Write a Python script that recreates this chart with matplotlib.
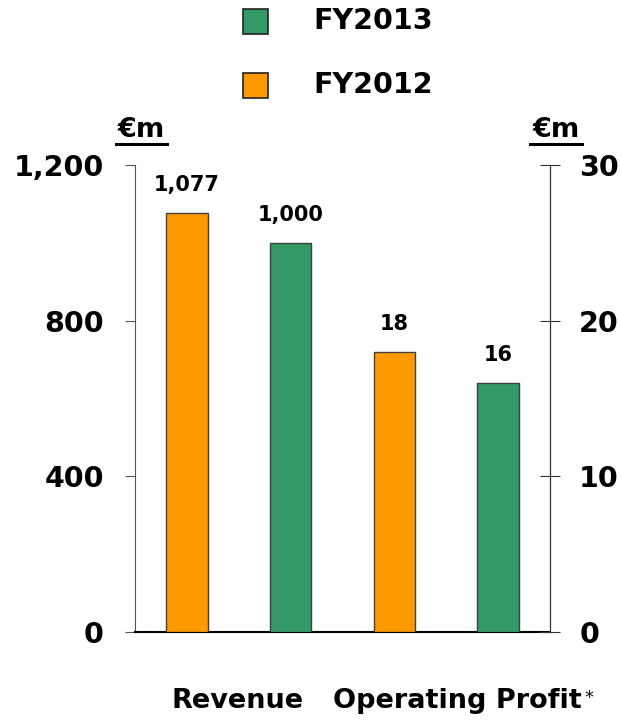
import matplotlib
matplotlib.use('Agg')
import matplotlib.pyplot as plt
from matplotlib.lines import Line2D
from matplotlib.patches import Rectangle

plt.rcParams['font.family'] = 'DejaVu Sans'
plt.rcParams['font.weight'] = 'bold'

# data
groups = ['Revenue', 'Operating Profit']
years = ['FY2013', 'FY2012']
revenue = {'FY2012': 1077, 'FY2013': 1000}
profit = {'FY2012': 18, 'FY2013': 16}
left_ticks = [0, 400, 800, 1200]
right_ticks = [0, 10, 20, 30]

GREEN = '#339966'
ORANGE = '#FF9900'
colors = {'FY2013': GREEN, 'FY2012': ORANGE}

fig = plt.figure(figsize=(6.21, 7.2), dpi=100)
ax = fig.add_axes([0.2174, 0.1222, 0.6683, 0.6486])
ax2 = ax.twinx()

order = ['FY2012', 'FY2013']
w = 0.4
for i, y in enumerate(order):
    v = revenue[y]
    ax.bar(i, v, width=w, color=colors[y], edgecolor='#404040', linewidth=1, zorder=3)
    ax.text(i, v + 46, f'{v:,}', ha='center', va='bottom', fontsize=15, fontweight='bold')
for i, y in enumerate(order):
    v = profit[y]
    ax2.bar(i + 2, v, width=w, color=colors[y], edgecolor='#404040', linewidth=1, zorder=3)
    ax2.text(i + 2, v + 1.15, f'{v:,}', ha='center', va='bottom', fontsize=15, fontweight='bold')

ax.set_xlim(-0.5, 3.5)
ax.set_ylim(0, 1200)
ax2.set_ylim(0, 30)
ax.set_yticks(left_ticks)
ax.set_yticklabels([f'{t:,}' for t in left_ticks], fontsize=20.5, fontweight='bold')
ax2.set_yticks(right_ticks)
ax2.set_yticklabels([str(t) for t in right_ticks], fontsize=20.5, fontweight='bold')
ax.set_xticks([])

for a in (ax, ax2):
    a.spines['top'].set_visible(False)
ax.spines['left'].set_color('#555555')
ax.spines['left'].set_linewidth(0.8)
ax2.spines['left'].set_visible(False)
ax2.spines['right'].set_color('#333333')
ax2.spines['right'].set_linewidth(0.8)
ax.spines['bottom'].set_linewidth(1.5)
ax.spines['bottom'].set_color('black')
ax2.spines['bottom'].set_visible(False)
ax.tick_params(axis='y', direction='out', length=7.5, width=0.8, color='#555555', pad=15)
ax2.tick_params(axis='y', direction='inout', length=14, width=0.8, color='#333333', pad=14)

# unit labels with underline
for x0, x1 in [(116 / 621, 167 / 621), (530 / 621, 582 / 621)]:
    fig.text((x0 + x1) / 2, 1 - 130 / 720, '€m', ha='center', va='center', fontsize=19.5, fontweight='bold')
    fig.add_artist(Line2D([x0, x1], [1 - 144 / 720] * 2, color='black', linewidth=2.2,
                          transform=fig.transFigure))

# legend
for k, y in enumerate(years):
    yc = 1 - (21 + 64 * k) / 720
    fig.add_artist(Rectangle((243 / 621, yc - 12.5 / 720), 25 / 621, 25 / 720, transform=fig.transFigure,
                             facecolor=colors[y], edgecolor='#222222', linewidth=1.2))
    fig.text(313 / 621, yc, y, ha='left', va='center', fontsize=20.5, fontweight='bold')

# category labels
fig.text(238 / 621, 1 - 701 / 720, groups[0], ha='center', va='center', fontsize=19.5, fontweight='bold')
fig.text(457 / 621, 1 - 701 / 720, groups[1], ha='center', va='center', fontsize=19.5, fontweight='bold')
fig.text(584 / 621, 1 - 698 / 720, '*', ha='left', va='center', fontsize=13, fontweight='normal')

fig.savefig('out.png', dpi=100)
